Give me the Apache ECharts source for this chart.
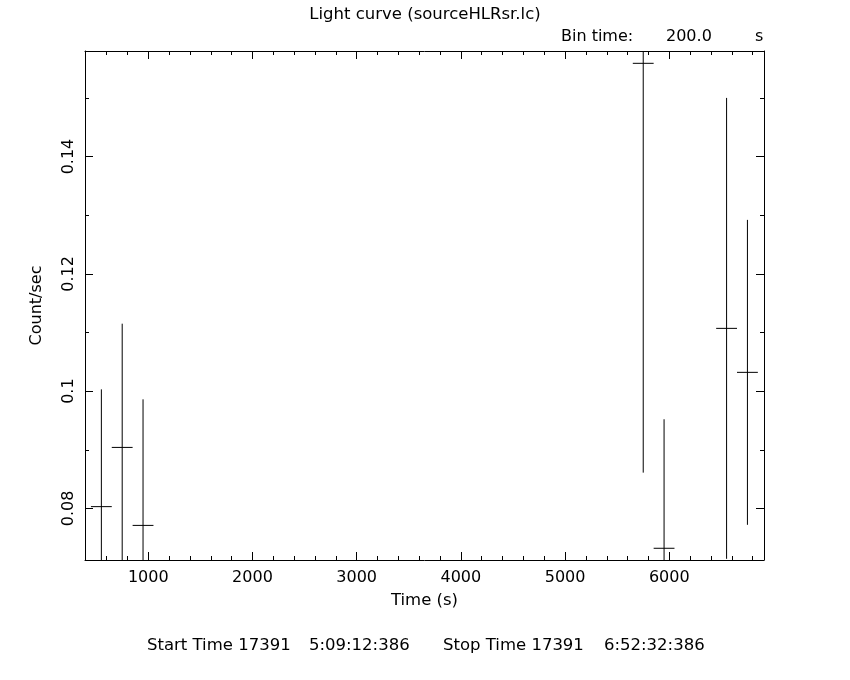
<!DOCTYPE html>
<html>
<head>
<meta charset="utf-8">
<script src="https://cdn.jsdelivr.net/npm/echarts@6/dist/echarts.min.js"></script>
<style>
html,body{margin:0;padding:0;background:#fff;}
#chart{width:850px;height:680px;}
</style>
</head>
<body>
<div id="chart"></div>
<script>
// Bin centre times (s)
var times = [550, 750, 950, 5750, 5950, 6550, 6750];
// Count rates (count/sec)
var rates = [0.0803, 0.0904, 0.0771, 0.1559, 0.0732, 0.1107, 0.1032];
// 1-sigma errors on rate
var errors = [0.0200, 0.0211, 0.0215, 0.0698, 0.0220, 0.0393, 0.0260];
// Half bin width (s)
var halfBin = [100, 100, 100, 100, 100, 100, 100];

var titleText = 'Light curve (sourceHLRsr.lc)';
var binLabel = 'Bin time:';
var binValue = '200.0';
var binUnit = 's';
var startLabel = 'Start Time 17391';
var startClock = '5:09:12:386';
var stopLabel = 'Stop Time 17391';
var stopClock = '6:52:32:386';
var xName = 'Time (s)';
var yName = 'Count/sec';

var xMin = 393, xMax = 6909;
var yMin = 0.0712, yMax = 0.158;

var FONT = 'DejaVu Sans';
var FS = 16;
var data = times.map(function (t, i) { return [t, rates[i], errors[i], halfBin[i]]; });

var chart = echarts.init(document.getElementById('chart'), null, {renderer: 'canvas'});

function axisCommon() {
  return {
    axisLine: {show: true, onZero: false, lineStyle: {color: '#000', width: 1}},
    axisTick: {show: true, inside: true, length: 8, lineStyle: {color: '#000', width: 1}},
    minorTick: {show: true, length: 4, lineStyle: {color: '#000', width: 1}},
    splitLine: {show: false},
    minorSplitLine: {show: false}
  };
}

var xBottom = Object.assign(axisCommon(), {
  type: 'value', position: 'bottom', min: xMin, max: xMax, splitNumber: 5,
  name: xName, nameLocation: 'middle', nameGap: 32,
  nameTextStyle: {color: '#000', fontFamily: FONT, fontSize: 16.5},
  axisLabel: {show: true, color: '#000', fontFamily: FONT, fontSize: FS, margin: 10,
              showMinLabel: false, showMaxLabel: false,
              formatter: function (v) { return String(Math.round(v)); }}
});
xBottom.minorTick.splitNumber = 5;
var xTop = Object.assign(axisCommon(), {
  type: 'value', position: 'top', min: xMin, max: xMax, splitNumber: 5,
  axisLabel: {show: false}
});
xTop.minorTick.splitNumber = 5;

var yLeft = Object.assign(axisCommon(), {
  type: 'value', position: 'left', min: yMin, max: yMax, splitNumber: 5,
  name: yName, nameLocation: 'middle', nameGap: 40, nameRotate: 90,
  nameTextStyle: {color: '#000', fontFamily: FONT, fontSize: FS},
  axisLabel: {show: true, rotate: 90, color: '#000', fontFamily: FONT, fontSize: FS, margin: 8,
              showMinLabel: false, showMaxLabel: false,
              formatter: function (v) { return String(+v.toFixed(4)); }}
});
yLeft.minorTick.splitNumber = 2;
var yRight = Object.assign(axisCommon(), {
  type: 'value', position: 'right', min: yMin, max: yMax, splitNumber: 5,
  axisLabel: {show: false}
});
yRight.minorTick.splitNumber = 2;

function txt(s, left, top, size) {
  return {type: 'text', left: left, top: top,
          style: {text: s, fill: '#000', font: (size || FS) + 'px "' + FONT + '"'}};
}

chart.setOption({
  backgroundColor: '#fff',
  animation: false,
  grid: {left: 85, right: 86, top: 51, bottom: 120, containLabel: false},
  xAxis: [xBottom, xTop],
  yAxis: [yLeft, yRight],
  graphic: [
    {type: 'text', left: 'center', top: 6,
     style: {text: titleText, fill: '#000', font: '16.5px "' + FONT + '"'}},
    txt(binLabel, 561, 29),
    txt(binValue, 666, 29),
    txt(binUnit, 755, 29),
    txt(startLabel, 147, 637, 16.5),
    txt(startClock, 309, 637, 16.5),
    txt(stopLabel, 443, 637, 16.5),
    txt(stopClock, 604, 637, 16.5)
  ],
  series: [{
    type: 'custom',
    xAxisIndex: 0, yAxisIndex: 0,
    clip: true,
    data: data,
    renderItem: function (params, api) {
      var t = api.value(0), r = api.value(1), e = api.value(2), h = api.value(3);
      var top = api.coord([t, r + e]);
      var bot = api.coord([t, r - e]);
      var l = api.coord([t - h, r]);
      var rr = api.coord([t + h, r]);
      var style = {stroke: '#000', lineWidth: 1, fill: null};
      return {
        type: 'group',
        children: [
          {type: 'line', shape: {x1: top[0], y1: top[1], x2: bot[0], y2: bot[1]}, style: style},
          {type: 'line', shape: {x1: l[0], y1: l[1], x2: rr[0], y2: rr[1]}, style: style}
        ]
      };
    }
  }]
});
</script>
</body>
</html>
